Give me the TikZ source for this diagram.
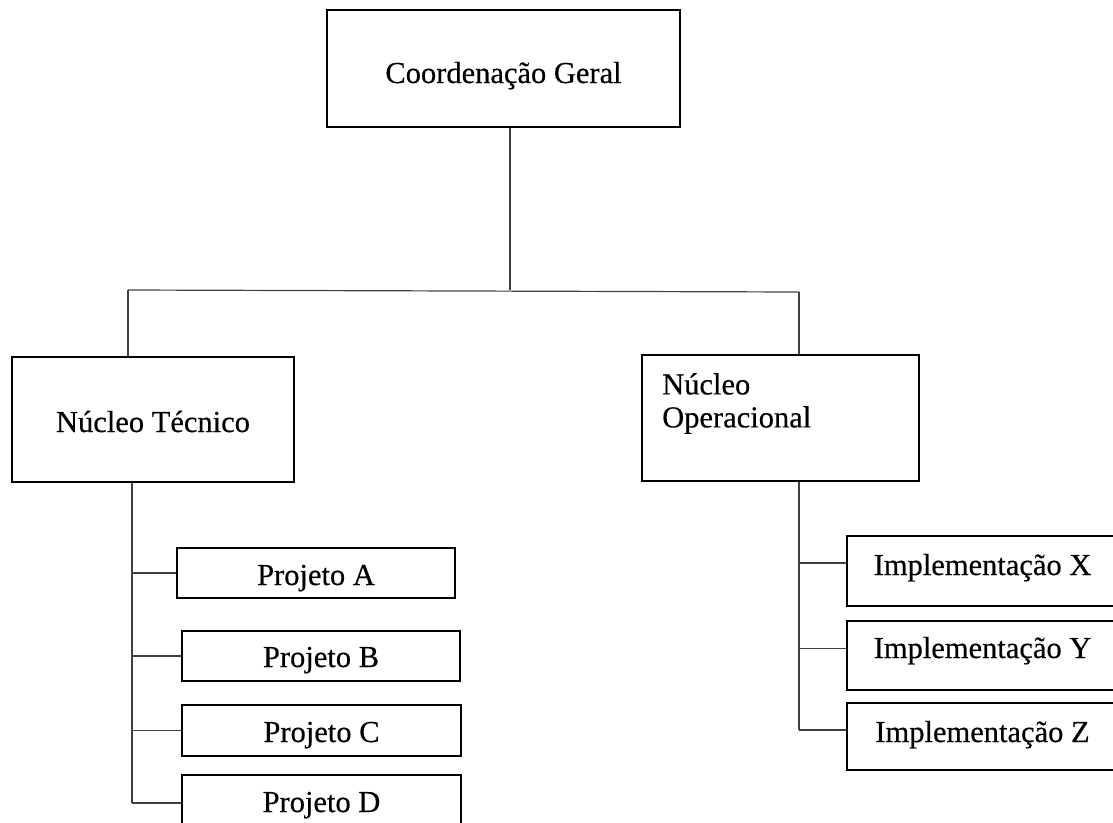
\documentclass[tikz,border=0pt]{standalone}
\usepackage{fontspec}
\setmainfont{Liberation Serif}[FakeBold=0.4]
\begin{document}
\begin{tikzpicture}[x=1pt,y=-1pt,
  box/.style={draw=black,line width=2pt,inner sep=0pt,text depth=6pt,font=\fontsize{30.5}{33}\selectfont},
  tb/.style={text height=#1},
  conn/.style={draw=black!75,line width=1.2pt},
  lbl/.style={inner sep=0pt,font=\fontsize{30.5}{33}\selectfont,align=left}]
\useasboundingbox (0,0) rectangle (1113,822);
% top
\node[box,tb=35pt,minimum width=353pt,minimum height=117pt] (cg) at (503.5,68.5) {Coordenação Geral};
% level 2
\node[box,tb=31pt,minimum width=282pt,minimum height=125pt] (nt) at (153,419.5) {Núcleo Técnico};
\node[box,minimum width=277pt,minimum height=126pt] (no) at (780.5,418) {};
\node[lbl,anchor=north west] (nolbl) at (662,373) {Núcleo\\Operacional};
% projetos
\node[box,tb=30pt,minimum width=278pt,minimum height=50pt] (pA) at (316,573) {Projeto A};
\node[box,tb=28pt,minimum width=278pt,minimum height=50pt] (pB) at (321,656) {Projeto B};
\node[box,tb=29pt,minimum width=279pt,minimum height=51pt] (pC) at (321.5,730.5) {Projeto C};
\node[box,tb=28pt,minimum width=279pt,minimum height=52pt] (pD) at (321.5,801) {Projeto D};
% implementacoes
\node[box,tb=14pt,minimum width=271pt,minimum height=70pt] (iX) at (982.5,571) {Implementação X};
\node[box,tb=11pt,minimum width=271pt,minimum height=69pt] (iY) at (982.5,655.5) {Implementação Y};
\node[box,tb=17pt,minimum width=271pt,minimum height=67pt] (iZ) at (982.5,736.5) {Implementação Z};
% junctions
\coordinate (j0) at (510,290);
\coordinate (jl) at (128,290);
\coordinate (jr) at (799,292);
\coordinate (tl) at (132,803);
\coordinate (tr) at (799,730);
% connectors
\draw[conn] (cg.south -| j0) -- (j0);
\draw[conn] (jl) -- (jr);
\draw[conn] (jl) -- (nt.north -| jl);
\draw[conn] (jr) -- (no.north -| jr);
\draw[conn] (nt.south -| tl) -- (tl);
\draw[conn] (tl |- pA.west) -- (pA.west);
\draw[conn] (tl |- pB.west) -- (pB.west);
\draw[conn] (tl |- pC.west) -- (pC.west);
\draw[conn] (tl) -- (tl -| pD.west);
\draw[conn] (no.south -| tr) -- (tr);
\draw[conn] ([yshift=8pt]tr |- iX.west) -- ([yshift=8pt]iX.west);
\draw[conn] ([yshift=7pt]tr |- iY.west) -- ([yshift=7pt]iY.west);
\draw[conn] (tr) -- (tr -| iZ.west);
\end{tikzpicture}
\end{document}
